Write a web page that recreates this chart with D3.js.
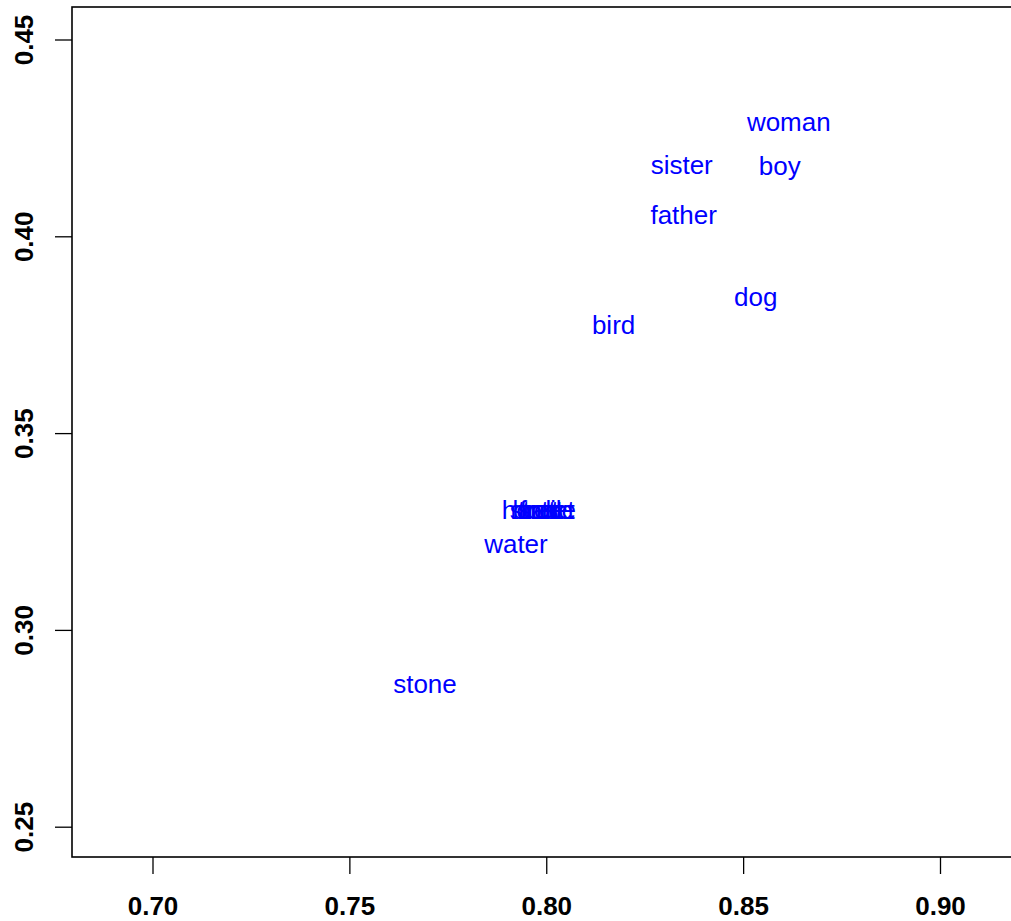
<!DOCTYPE html>
<html lang="en">
<head>
    <meta charset="UTF-8">
    <title>Word positions</title>
    <script src="https://d3js.org/d3.v7.min.js"></script>
    <style>
        body { margin: 0; background: white; }
        text { font-family: "Liberation Sans", Arial, Helvetica, sans-serif; }
    </style>
</head>
<body>
<script>
    const width = 1011;
    const height = 921;

    // word labels and their coordinates
    const words = ["woman", "sister", "boy", "father", "dog", "bird",
                   "house", "tree", "street", "fruit", "salt", "bottle",
                   "water", "stone"];
    const xs = [0.8616, 0.8344, 0.8593, 0.8349, 0.8532, 0.8171,
                0.7977, 0.7985, 0.7990, 0.7988, 0.7980, 0.7995,
                0.7923, 0.7692];
    const ys = [0.4290, 0.4181, 0.4179, 0.4054, 0.3846, 0.3775,
                0.3305, 0.3305, 0.3305, 0.3305, 0.3305, 0.3305,
                0.3218, 0.2863];

    const xTicks = [0.70, 0.75, 0.80, 0.85, 0.90];
    const yTicks = [0.25, 0.30, 0.35, 0.40, 0.45];

    const plotLeft = 72, plotTop = 7, plotBottom = 857;

    const svg = d3.select("body").append("svg")
            .attr("width", width).attr("height", height);

    const x = d3.scaleLinear().domain([0.70, 0.90]).range([152.5, 940]);
    const y = d3.scaleLinear().domain([0.25, 0.45]).range([826.7, 39.5]);

    // bottom axis
    const gx = svg.append("g")
            .attr("transform", `translate(0,${plotBottom})`)
            .call(d3.axisBottom(x).tickValues(xTicks).tickSize(17).tickFormat(d3.format(".2f")));
    gx.select(".domain").remove();
    gx.selectAll(".tick line").attr("stroke", "#000").attr("stroke-width", 1.3);
    gx.selectAll(".tick text")
            .attr("y", 58).attr("dy", 0)
            .attr("fill", "#000")
            .style("font-size", "26px").style("font-weight", "bold");

    // left axis
    const gy = svg.append("g")
            .attr("transform", `translate(${plotLeft},0)`)
            .call(d3.axisLeft(y).tickValues(yTicks).tickSize(17).tickFormat(d3.format(".2f")));
    gy.select(".domain").remove();
    gy.selectAll(".tick line").attr("stroke", "#000").attr("stroke-width", 1.3);
    gy.selectAll(".tick text")
            .attr("transform", "rotate(-90)")
            .attr("x", 0).attr("y", -39).attr("dy", 0)
            .attr("text-anchor", "middle")
            .attr("fill", "#000")
            .style("font-size", "26px").style("font-weight", "bold");

    // plot frame (right side runs past the picture)
    svg.append("rect")
            .attr("x", plotLeft).attr("y", plotTop)
            .attr("width", 1100).attr("height", plotBottom - plotTop)
            .attr("fill", "none")
            .attr("stroke", "#000")
            .attr("stroke-width", 1.6);

    // word labels
    svg.selectAll("text.word")
            .data(words)
            .enter()
            .append("text")
            .attr("class", "word")
            .attr("x", (d, i) => x(xs[i]))
            .attr("y", (d, i) => y(ys[i]))
            .attr("dy", "0.35em")
            .attr("text-anchor", "middle")
            .attr("fill", "#0000ff")
            .style("font-size", "26px")
            .text(d => d);
</script>
</body>
</html>
